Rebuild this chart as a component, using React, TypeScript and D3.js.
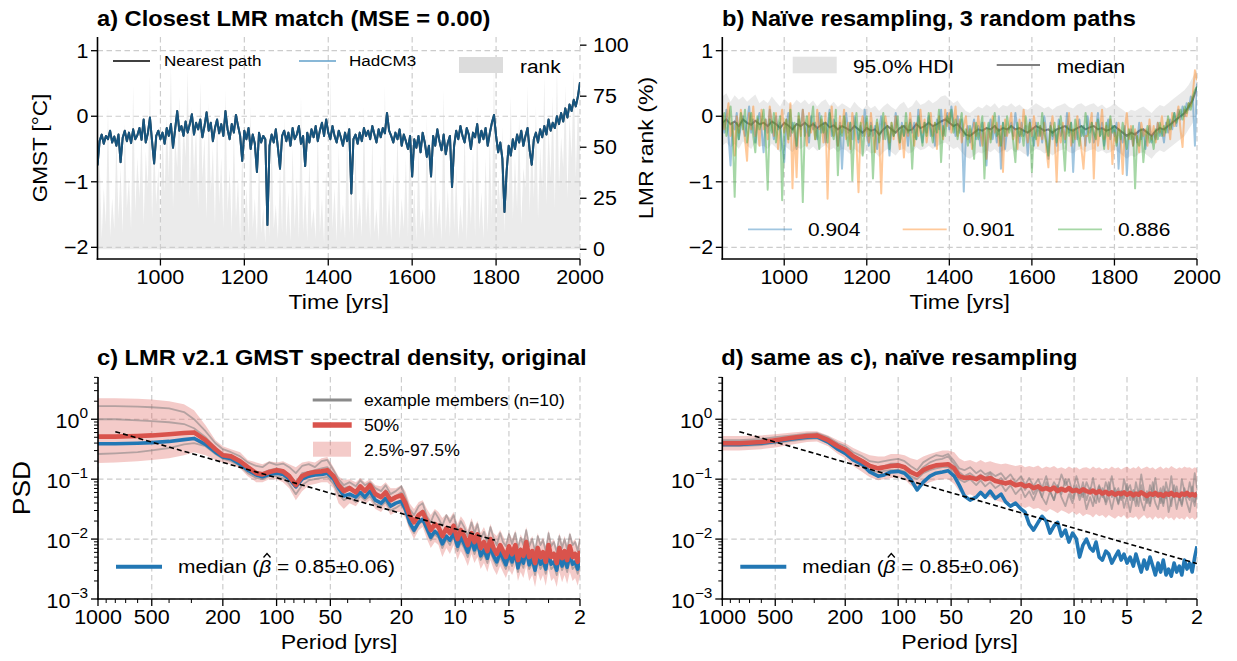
import React from "react";
import * as d3 from "d3";

const W = 1237;
const H = 661;
const FONT = "'Liberation Sans', Arial, Helvetica, sans-serif";
const SX = 1.1; // the reference font runs a bit wider than Arial

// ---------- panels a) and b): yearly series sampled every 5 years ----------
const YEARS = d3.range(850, 2001, 5);

const GMST_NEAREST = [
  -0.75, -0.38, -0.28, -0.42, -0.30, -0.35, -0.22, -0.40, -0.31, -0.45,
  -0.28, -0.70, -0.33, -0.22, -0.38, -0.25, -0.41, -0.20, -0.35, -0.29,
  -0.18, -0.36, -0.05, -0.40, -0.26, -0.02, -0.38, -0.72, -0.30, -0.22,
  -0.35, -0.25, -0.42, -0.18, -0.30, -0.12, -0.48, -0.20, 0.08, -0.22,
  -0.15, -0.30, -0.08, -0.25, -0.12, 0.03, -0.28, -0.10, -0.20, -0.05,
  -0.32, -0.15, 0.06, -0.22, -0.10, -0.38, -0.18, -0.05, -0.26, -0.12,
  -0.30, 0.08, -0.20, -0.35, -0.12, -0.25, 0.02, -0.15, -0.30, -0.68,
  -0.22, -0.35, -0.18, -0.50, -0.28, -0.42, -0.85, -0.25, -0.40, -0.30,
  -0.35, -1.66, -0.45, -0.28, -0.40, -0.20, -0.48, -0.80, -0.30, -0.22,
  -0.38, -0.25, -0.45, -0.18, -0.35, -0.28, -0.15, -0.42, -0.30, -0.76,
  -0.25, -0.40, -0.20, -0.32, -0.15, -0.38, -0.22, -0.10, -0.30, -0.05,
  -0.25, -0.35, -0.15, -0.30, -0.40, -0.22, -0.32, -0.45, -0.25, -0.38,
  -0.20, -1.18, -0.35, -0.28, -0.42, -0.25, -0.38, -0.18, -0.30, -0.22,
  -0.35, -0.15, -0.28, -0.40, -0.20, -0.32, -0.18, -0.26, 0.05, -0.22,
  -0.30, -0.40, -0.25, -0.35, -0.20, -0.45, -0.28, -0.38, -0.50, -0.30,
  -0.92, -0.35, -0.48, -0.30, -0.55, -0.25, -0.40, -0.62, -0.45, -0.92,
  -0.30, -0.45, -0.20, -0.38, -0.52, -0.28, -0.58, -0.40, -0.30, -1.08,
  -0.45, -0.22, -0.35, -0.15, -0.30, -0.40, -0.18, -0.28, -0.50, -0.25,
  -0.32, -0.12, -0.40, -0.22, -0.35, -0.18, -0.45, -0.26, -0.10, 0.02,
  -0.30, -0.55, -0.40, -0.65, -1.46, -0.85, -0.45, -0.60, -0.35, -0.50,
  -0.28, -0.40, -0.22, -0.45, -0.30, -0.18, -0.52, -0.74, -0.35, -0.25,
  -0.40, -0.20, -0.32, -0.15, -0.28, -0.05, -0.22, -0.10, -0.18, 0.00,
  -0.12, 0.05, -0.08, 0.12, -0.02, 0.18, 0.08, 0.25, 0.15, 0.30,
  0.52,
];

const LMR_RANK = [
  8, 45, 5, 30, 12, 70, 6, 25, 10, 55,
  15, 40, 8, 62, 20, 35, 10, 80, 18, 45,
  25, 60, 12, 48, 30, 85, 15, 52, 22, 40,
  10, 58, 28, 65, 35, 90, 20, 55, 40, 75,
  30, 62, 45, 88, 25, 70, 38, 60, 20, 82,
  35, 55, 15, 72, 28, 50, 12, 66, 22, 45,
  10, 78, 18, 40, 8, 60, 15, 35, 5, 50,
  12, 30, 6, 70, 10, 25, 4, 45, 8, 20,
  3, 35, 6, 55, 10, 22, 5, 40, 8, 65,
  6, 28, 4, 50, 10, 35, 5, 75, 8, 30,
  4, 45, 10, 20, 5, 60, 8, 25, 3, 40,
  6, 85, 10, 30, 4, 50, 8, 22, 5, 65,
  8, 35, 4, 48, 10, 25, 6, 70, 12, 30,
  5, 55, 8, 20, 4, 42, 10, 80, 6, 28,
  4, 38, 8, 60, 5, 25, 10, 45, 6, 72,
  8, 30, 4, 50, 10, 20, 5, 65, 8, 35,
  5, 45, 10, 25, 4, 78, 8, 30, 6, 52,
  10, 40, 5, 22, 8, 60, 4, 35, 12, 48,
  6, 70, 10, 28, 5, 45, 8, 55, 15, 90,
  10, 35, 20, 60, 8, 50, 25, 75, 15, 45,
  20, 65, 12, 40, 30, 80, 18, 55, 25, 70,
  15, 50, 30, 85, 22, 60, 35, 75, 20, 90,
  30, 55, 40, 80, 25, 65, 45, 88, 35, 70,
  50,
];

// three resampled paths (labels are their correlations)
const PATH_904 = [
  -0.05, -0.25, 0.1, -0.3, -0.75, -0.1, -0.2, 0.05, -0.35, -0.15,
  0.0, -0.3, -0.1, 0.15, -0.25, -0.05, -0.4, -0.1, 0.05, -0.2,
  -0.55, -0.05, -0.25, 0.1, -0.15, -0.35, 0.0, -0.2, -0.1, -0.45,
  -0.7, -0.15, 0.05, -0.3, -0.1, -0.25, -0.5, -0.05, -0.2, 0.1,
  -0.3, -0.15, -0.4, 0.0, -0.2, -0.1, -0.35, 0.05, -0.25, -0.1,
  -0.4, -0.15, 0.1, -0.3, -0.05, -0.2, -0.45, -0.1, -0.8, -0.2,
  0.05, -0.25, -0.1, -0.35, 0.0, -0.2, -0.4, -0.15, -0.3, 0.1,
  -0.25, -0.45, -0.1, -0.3, -0.15, -0.5, -0.2, 0.0, -0.35, -0.1,
  -0.25, -0.6, -0.15, -0.3, 0.05, -0.2, -0.4, -0.1, -0.3, -0.15,
  -0.45, -0.05, -0.25, -0.1, -0.35, 0.1, -0.2, -0.4, -0.1, -0.25,
  0.0, -0.3, -0.15, -0.45, -0.05, -0.2, 0.1, -0.3, -0.1, 0.05,
  -0.2, 0.15, -0.1, -0.3, 0.0, -0.25, -0.05, -1.15, -0.3, -0.15,
  -0.4, -0.2, -0.05, -0.35, -0.15, -0.45, -0.1, -0.3, -0.75, -0.2,
  -0.05, -0.35, -0.15, -0.4, 0.0, -0.8, -0.1, -0.5, -0.2, -0.2,
  -0.1, -0.3, 0.05, -0.2, -0.4, -0.1, -0.3, -0.15, -0.6, -0.05,
  -0.25, -0.45, -0.1, -0.3, -0.15, -0.4, 0.0, -0.25, -0.65, -0.1,
  -0.35, -0.2, -0.45, -0.05, -0.3, -0.15, -0.4, 0.05, -0.25, -0.1,
  -0.85, -0.2, -0.35, -0.05, -0.3, -0.15, -0.45, 0.0, -0.25, -0.1,
  -0.4, -0.2, 0.05, -0.3, -0.1, -0.45, -0.2, -0.05, -0.35, -0.15,
  -0.3, -0.1, -0.8, -0.25, -0.4, -0.15, -0.9, -0.3, -0.2, -0.45,
  -0.25, -0.4, -0.1, -0.35, -0.2, -0.5, -0.3, -0.15, -0.4, -0.25,
  -0.35, -0.1, -0.3, -0.2, -0.4, -0.1, -0.25, -0.05, -0.2, 0.05,
  -0.15, 0.1, -0.05, 0.15, 0.0, 0.2, 0.1, 0.3, 0.25, -0.45,
  0.5,
];

const PATH_901 = [
  0.05, -0.2, -0.05, 0.2, -0.3, -0.1, -0.6, 0.0, -0.25, 0.1,
  -0.15, -0.35, -0.68, 0.05, -0.2, 0.15, -0.3, -0.05, -0.45, 0.1,
  -0.2, -0.05, -0.35, 0.15, -0.1, -0.3, 0.05, -0.5, -0.15, 0.1,
  -0.25, -0.05, -0.4, 0.2, -1.1, -0.15, -0.93, 0.0, -0.3, 0.1,
  -0.2, -0.45, 0.05, -0.25, -0.1, -0.35, 0.1, -0.2, -0.05, -0.4,
  0.05, -1.26, -0.2, 0.15, -0.3, -0.1, -0.45, 0.0, -0.25, 0.1,
  -0.35, -0.1, -0.5, 0.05, -0.2, -0.4, -1.16, -0.15, 0.0, -0.3,
  -0.1, -0.4, 0.05, -0.25, -0.55, -0.1, -0.3, -1.18, -0.2, 0.0,
  -0.2, -0.4, -0.1, -0.35, 0.0, -0.25, -0.5, -0.15, -0.63, -0.1,
  -0.3, 0.05, -0.2, -0.45, -0.1, -0.3, 0.1, -0.25, -0.05, -0.4,
  -0.15, 0.05, -0.3, -0.1, -0.5, 0.0, -0.2, -0.35, 0.1, -0.15,
  0.05, -0.25, -0.1, 0.15, -0.3, -0.05, -0.4, -0.15, 0.0, -0.35,
  -0.2, -0.5, -0.1, -0.3, 0.0, -0.25, -0.45, -0.1, -0.65, -0.2,
  -0.35, 0.0, -0.25, -0.1, -0.45, -0.15, -0.85, -0.05, -0.3, -0.15,
  0.05, -0.35, -0.2, -0.5, -0.05, -0.3, 0.1, -0.2, -0.4, -0.1,
  -0.3, 0.0, -0.25, -0.45, -0.15, -0.35, -0.1, -0.5, -0.78, -0.2,
  0.0, -0.3, -1.0, -0.15, -0.4, -0.1, -0.35, -0.2, 0.05, -0.45,
  -0.2, -0.35, 0.0, -0.25, -0.5, -0.8, -0.3, -0.3, -0.15, 0.05,
  -0.95, -0.1, -0.45, -0.2, 0.1, -0.35, -0.15, -0.5, -0.05, -0.73,
  -0.25, -0.4, -0.1, -0.3, -0.88, -0.2, 0.05, -0.35, -0.15, -0.45,
  -0.2, -0.35, -0.55, -0.1, -0.3, -0.2, -0.45, -0.05, -0.35, -0.15,
  -0.4, -0.1, -0.25, 0.0, -0.3, -0.15, -0.05, -0.35, 0.05, -0.15,
  -0.05, 0.15, -0.2, -0.47, 0.1, 0.0, 0.2, 0.15, 0.35, 0.7,
  0.55,
];

const PATH_886 = [
  -0.2, 0.05, -0.3, -0.1, 0.15, -0.25, -1.23, -0.1, -0.35, 0.05,
  -0.2, 0.1, -0.4, -0.15, 0.05, -0.3, -0.55, 0.0, -0.2, -0.1,
  0.1, -0.35, -1.12, -0.05, -0.25, 0.05, -0.4, -0.15, 0.0, -1.28,
  -0.2, -0.05, -0.35, 0.1, -0.25, -0.1, -0.45, 0.05, -0.2, -1.31,
  -0.15, 0.0, -0.3, -0.1, 0.15, -0.35, -0.2, -0.5, 0.0, -0.25,
  -0.1, -0.4, 0.05, -0.2, -0.35, 0.1, -0.9, -0.15, -0.3, 0.0,
  -0.25, -0.45, -0.1, -0.98, -0.2, 0.05, -0.35, -0.1, -0.6, -0.2,
  0.0, -0.3, -0.15, -0.95, -0.25, -0.05, -0.4, -0.2, 0.05, -0.35,
  -0.15, -0.5, -0.1, -0.3, -0.2, 0.0, -0.4, -0.15, -0.3, 0.05,
  -0.25, -0.1, -0.8, -0.2, -0.35, 0.0, -0.2, -0.45, -0.1, -0.3,
  0.05, -0.2, -0.4, -0.1, -0.25, 0.1, -0.7, -0.15, -0.3, 0.0,
  -0.1, 0.1, -0.25, -0.05, -0.35, -0.15, 0.05, -0.3, -0.2, -0.45,
  -0.15, -0.3, -0.65, -0.1, -0.35, -0.2, 0.0, -0.95, -0.25, -0.1,
  -0.4, -0.15, 0.05, -0.3, -0.2, -0.45, -0.1, -0.3, 0.0, -0.25,
  -0.15, -0.4, -0.7, -0.1, -0.3, -0.2, -0.45, 0.0, -0.25, -0.1,
  -0.85, -0.2, -0.35, -0.1, -0.3, 0.05, -0.25, -0.4, -0.6, -0.15,
  -0.3, -0.1, -0.4, -0.2, 0.0, -0.35, -0.83, -0.15, -0.3, -0.1,
  -0.4, -0.05, -0.25, -0.45, -0.15, -0.3, 0.05, -0.2, -0.4, -0.1,
  -0.25, -0.35, -0.05, -0.3, -0.2, -0.5, -0.1, -0.3, 0.0, -0.25,
  -0.15, -0.45, -0.2, -0.35, -0.1, -0.3, -0.5, -0.2, -0.35, -0.15,
  -1.1, -0.3, -0.45, -0.2, -0.7, -0.35, -0.15, -0.4, -0.3, -0.5,
  -0.2, -0.35, -0.1, -0.3, -0.15, -0.25, 0.0, -0.2, -0.1, 0.05,
  -0.1, 0.0, 0.1, -0.05, 0.15, 0.05, 0.2, 0.1, 0.3, 0.4,
  0.45,
];

const PATHS = [PATH_904, PATH_901, PATH_886];
const PATH_LABELS = ["0.904", "0.901", "0.886"];
const PATH_COLORS = ["#1f77b4", "#ff7f0e", "#2ca02c"];

// ensemble summary, every 10 years
const HDI_YEARS = d3.range(850, 2001, 10);
const HDI_MEDIAN = [
  -0.1, -0.05, -0.12, -0.08, -0.15, -0.05, -0.1, -0.13, -0.07, -0.12,
  -0.1, -0.15, -0.08, -0.12, -0.18, -0.1, -0.14, -0.2, -0.12, -0.15,
  -0.1, -0.16, -0.12, -0.18, -0.13, -0.1, -0.17, -0.14, -0.2, -0.15,
  -0.18, -0.22, -0.15, -0.2, -0.25, -0.18, -0.22, -0.2, -0.28, -0.2,
  -0.15, -0.2, -0.25, -0.18, -0.15, -0.22, -0.2, -0.12, -0.18, -0.15,
  -0.1, -0.15, -0.12, -0.08, -0.05, -0.1, -0.15, -0.12, -0.2, -0.28,
  -0.3, -0.25, -0.2, -0.22, -0.18, -0.2, -0.15, -0.22, -0.18, -0.2,
  -0.15, -0.2, -0.18, -0.22, -0.25, -0.2, -0.15, -0.18, -0.22, -0.2,
  -0.25, -0.2, -0.18, -0.15, -0.2, -0.22, -0.18, -0.15, -0.2, -0.17,
  -0.15, -0.2, -0.18, -0.22, -0.2, -0.15, -0.2, -0.25, -0.3, -0.25,
  -0.28, -0.22, -0.2, -0.25, -0.3, -0.22, -0.18, -0.2, -0.15, -0.1,
  -0.05, 0.0, 0.05, 0.15, 0.25, 0.45,
];
const HDI_HIGH = [
  0.3, 0.35, 0.22, 0.32, 0.25, 0.3, 0.22, 0.28, 0.33, 0.2,
  0.25, 0.2, 0.3, 0.22, 0.15, 0.27, 0.2, 0.17, 0.25, 0.2,
  0.25, 0.18, 0.24, 0.15, 0.22, 0.26, 0.16, 0.22, 0.14, 0.2,
  0.16, 0.12, 0.22, 0.15, 0.1, 0.18, 0.12, 0.16, 0.08, 0.15,
  0.2, 0.14, 0.1, 0.18, 0.22, 0.12, 0.16, 0.25, 0.17, 0.2,
  0.25, 0.2, 0.24, 0.3, 0.32, 0.26, 0.2, 0.24, 0.15, 0.08,
  0.05, 0.1, 0.15, 0.12, 0.18, 0.14, 0.2, 0.12, 0.17, 0.15,
  0.2, 0.14, 0.18, 0.12, 0.1, 0.15, 0.2, 0.16, 0.12, 0.15,
  0.1, 0.15, 0.17, 0.2, 0.14, 0.12, 0.18, 0.2, 0.15, 0.18,
  0.2, 0.14, 0.18, 0.12, 0.15, 0.2, 0.14, 0.1, 0.05, 0.1,
  0.08, 0.12, 0.15, 0.1, 0.05, 0.12, 0.17, 0.15, 0.2, 0.25,
  0.3, 0.35, 0.4, 0.48, 0.6, 0.72,
];
const HDI_LOW = [
  -0.45, -0.4, -0.48, -0.42, -0.5, -0.38, -0.45, -0.5, -0.4, -0.46,
  -0.45, -0.5, -0.42, -0.48, -0.55, -0.45, -0.5, -0.55, -0.47, -0.5,
  -0.45, -0.52, -0.46, -0.53, -0.48, -0.44, -0.52, -0.48, -0.55, -0.5,
  -0.52, -0.58, -0.5, -0.55, -0.6, -0.52, -0.57, -0.55, -0.62, -0.55,
  -0.5, -0.55, -0.6, -0.52, -0.5, -0.57, -0.55, -0.47, -0.52, -0.5,
  -0.45, -0.5, -0.46, -0.42, -0.4, -0.45, -0.5, -0.47, -0.55, -0.62,
  -0.65, -0.6, -0.55, -0.57, -0.52, -0.55, -0.5, -0.57, -0.52, -0.55,
  -0.5, -0.55, -0.52, -0.57, -0.6, -0.55, -0.5, -0.52, -0.57, -0.55,
  -0.6, -0.55, -0.52, -0.5, -0.55, -0.57, -0.52, -0.5, -0.55, -0.52,
  -0.5, -0.55, -0.52, -0.57, -0.55, -0.5, -0.55, -0.6, -0.65, -0.6,
  -0.62, -0.57, -0.55, -0.6, -0.65, -0.57, -0.52, -0.55, -0.5, -0.45,
  -0.4, -0.35, -0.3, -0.2, -0.1, 0.15,
];

const TIME_TICKS = [1000, 1200, 1400, 1600, 1800, 2000];
const GMST_TICKS = [1, 0, -1, -2];
const RANK_TICKS = [0, 25, 50, 75, 100];

// ---------- panels c) and d): log10(PSD) read at each period ----------
const PERIODS = [
  1000, 800, 600, 500, 400, 330, 290, 250, 220, 200,
  180, 160, 145, 130, 120, 110, 100, 92, 85, 78,
  72, 66, 61, 56, 52, 48, 45, 42, 39, 36,
  34, 32, 30, 28, 26, 24.5, 23, 21.5, 20, 19,
  18, 17, 16, 15.2, 14.4, 13.7, 13, 12.4, 11.8, 11.2,
  10.7, 10.2, 9.7, 9.3, 8.9, 8.5, 8.1, 7.8, 7.5, 7.2,
  6.9, 6.6, 6.35, 6.1, 5.85, 5.6, 5.4, 5.2, 5.0, 4.8,
  4.6, 4.45, 4.3, 4.15, 4.0, 3.85, 3.7, 3.57, 3.45, 3.33,
  3.22, 3.11, 3.0, 2.9, 2.8, 2.7, 2.61, 2.52, 2.44, 2.36,
  2.28, 2.2, 2.13, 2.06, 2.0,
];

const ORIG_Q50 = [
  -0.29, -0.29, -0.28, -0.27, -0.25, -0.23, -0.22, -0.35, -0.5, -0.6,
  -0.62, -0.7, -0.8, -0.9, -0.92, -0.88, -0.85, -0.87, -0.95, -1.1,
  -0.95, -0.9, -0.88, -0.87, -0.85, -0.95, -1.1, -1.2, -1.15, -1.22,
  -1.12, -1.2, -1.1, -1.25, -1.3, -1.22, -1.35, -1.3, -1.27, -1.4,
  -1.6, -1.72, -1.6, -1.55, -1.7, -1.85, -1.75, -1.8, -1.95, -1.82,
  -1.9, -1.78, -2.0, -1.85, -1.95, -2.1, -1.9, -2.05, -1.92, -2.15,
  -2.05, -2.2, -2.0, -2.15, -2.25, -2.1, -2.2, -2.3, -2.12, -2.25,
  -2.1, -2.35, -2.18, -2.28, -2.05, -2.3, -2.2, -2.4, -2.15, -2.3,
  -2.22, -2.38, -2.1, -2.3, -2.25, -2.4, -2.15, -2.32, -2.2, -2.35,
  -2.12, -2.3, -2.25, -2.38, -2.2,
];
const ORIG_MEDIAN = [
  -0.41, -0.41, -0.4, -0.39, -0.37, -0.34, -0.32, -0.42, -0.55, -0.63,
  -0.66, -0.75, -0.85, -0.93, -0.96, -0.92, -0.9, -0.92, -1.0, -1.13,
  -1.0, -0.95, -0.93, -0.92, -0.9, -1.0, -1.15, -1.28, -1.25, -1.3,
  -1.22, -1.3, -1.2, -1.35, -1.4, -1.32, -1.45, -1.4, -1.37, -1.5,
  -1.72, -1.85, -1.72, -1.67, -1.82, -1.97, -1.87, -1.92, -2.08, -1.95,
  -2.02, -1.9, -2.12, -1.97, -2.08, -2.22, -2.02, -2.18, -2.05, -2.28,
  -2.18, -2.32, -2.12, -2.28, -2.38, -2.22, -2.32, -2.43, -2.25, -2.38,
  -2.22, -2.48, -2.3, -2.4, -2.18, -2.43, -2.32, -2.52, -2.28, -2.42,
  -2.35, -2.5, -2.22, -2.42, -2.38, -2.52, -2.28, -2.45, -2.32, -2.47,
  -2.25, -2.42, -2.38, -2.5, -2.3,
];
const ORIG_HIGH = [
  0.35, 0.35, 0.34, 0.33, 0.3, 0.25, 0.15, -0.1, -0.35, -0.45,
  -0.5, -0.55, -0.68, -0.72, -0.75, -0.7, -0.72, -0.7, -0.75, -0.8,
  -0.72, -0.7, -0.72, -0.65, -0.63, -0.8, -0.95, -1.02, -1.0, -1.05,
  -0.98, -1.05, -1.0, -1.1, -1.12, -1.05, -1.15, -1.15, -1.1, -1.2,
  -1.4, -1.5, -1.38, -1.35, -1.5, -1.6, -1.5, -1.55, -1.65, -1.58,
  -1.65, -1.55, -1.75, -1.62, -1.7, -1.85, -1.65, -1.8, -1.7, -1.9,
  -1.8, -1.95, -1.75, -1.9, -1.95, -1.85, -1.95, -2.05, -1.88, -2.0,
  -1.85, -2.1, -1.92, -2.02, -1.8, -2.05, -1.95, -2.15, -1.9, -2.05,
  -1.97, -2.12, -1.85, -2.05, -2.0, -2.15, -1.9, -2.07, -1.95, -2.1,
  -1.88, -2.05, -2.0, -2.12, -1.95,
];
const ORIG_LOW = [
  -0.73, -0.72, -0.7, -0.68, -0.65, -0.6, -0.55, -0.6, -0.68, -0.72,
  -0.75, -0.82, -0.95, -1.05, -1.05, -1.0, -1.0, -1.05, -1.15, -1.35,
  -1.2, -1.1, -1.08, -1.05, -1.05, -1.15, -1.4, -1.5, -1.4, -1.45,
  -1.35, -1.42, -1.35, -1.5, -1.55, -1.45, -1.6, -1.55, -1.55, -1.65,
  -1.85, -2.0, -1.85, -1.8, -2.0, -2.15, -2.05, -2.1, -2.3, -2.15,
  -2.25, -2.1, -2.35, -2.2, -2.3, -2.45, -2.25, -2.4, -2.3, -2.5,
  -2.4, -2.55, -2.35, -2.5, -2.6, -2.45, -2.55, -2.65, -2.5, -2.6,
  -2.45, -2.7, -2.55, -2.65, -2.45, -2.7, -2.6, -2.8, -2.55, -2.7,
  -2.6, -2.78, -2.5, -2.7, -2.65, -2.8, -2.55, -2.72, -2.6, -2.75,
  -2.55, -2.7, -2.65, -2.78, -2.6,
];
const ORIG_MEMBER_1 = [
  0.22, 0.22, 0.21, 0.2, 0.18, 0.12, 0.0, -0.2, -0.4, -0.5,
  -0.55, -0.62, -0.72, -0.78, -0.8, -0.72, -0.76, -0.74, -0.8, -0.9,
  -0.78, -0.75, -0.8, -0.7, -0.68, -0.85, -1.0, -1.1, -1.05, -1.12,
  -1.02, -1.1, -1.05, -1.15, -1.2, -1.1, -1.25, -1.2, -1.12, -1.3,
  -1.5, -1.6, -1.45, -1.4, -1.62, -1.72, -1.55, -1.65, -1.78, -1.6,
  -1.72, -1.6, -1.85, -1.7, -1.8, -1.95, -1.72, -1.9, -1.75, -2.0,
  -1.88, -2.05, -1.8, -1.98, -2.1, -1.9, -2.05, -2.12, -1.92, -2.08,
  -1.9, -2.15, -1.98, -2.1, -1.85, -2.12, -2.0, -2.2, -1.95, -2.1,
  -2.02, -2.2, -1.9, -2.12, -2.05, -2.22, -1.95, -2.15, -2.0, -2.18,
  -1.92, -2.1, -2.05, -2.2, -2.0,
];
const ORIG_MEMBER_2 = [
  0.0, 0.0, -0.02, -0.03, -0.05, -0.08, -0.15, -0.3, -0.48, -0.58,
  -0.6, -0.68, -0.78, -0.88, -0.9, -0.85, -0.82, -0.85, -0.92, -1.05,
  -0.9, -0.88, -0.85, -0.82, -0.8, -0.92, -1.05, -1.15, -1.12, -1.2,
  -1.1, -1.18, -1.12, -1.22, -1.28, -1.18, -1.32, -1.28, -1.22, -1.38,
  -1.58, -1.7, -1.58, -1.52, -1.68, -1.82, -1.72, -1.78, -1.9, -1.8,
  -1.88, -1.75, -1.98, -1.82, -1.92, -2.08, -1.88, -2.02, -1.9, -2.12,
  -2.02, -2.18, -1.98, -2.12, -2.22, -2.08, -2.18, -2.28, -2.1, -2.22,
  -2.08, -2.32, -2.15, -2.25, -2.02, -2.28, -2.18, -2.38, -2.12, -2.28,
  -2.2, -2.35, -2.08, -2.28, -2.22, -2.38, -2.12, -2.3, -2.18, -2.32,
  -2.1, -2.28, -2.22, -2.35, -2.18,
];
const ORIG_MEMBER_3 = [
  -0.58, -0.57, -0.55, -0.52, -0.48, -0.42, -0.4, -0.45, -0.58, -0.66,
  -0.7, -0.78, -0.9, -0.98, -1.0, -0.95, -0.95, -0.98, -1.08, -1.25,
  -1.1, -1.02, -1.0, -0.98, -0.96, -1.08, -1.25, -1.35, -1.3, -1.38,
  -1.28, -1.35, -1.28, -1.42, -1.45, -1.38, -1.52, -1.48, -1.42, -1.55,
  -1.78, -1.9, -1.75, -1.7, -1.88, -2.02, -1.92, -1.98, -2.15, -2.0,
  -2.1, -1.95, -2.2, -2.05, -2.15, -2.3, -2.1, -2.25, -2.12, -2.35,
  -2.25, -2.4, -2.2, -2.35, -2.45, -2.3, -2.4, -2.5, -2.32, -2.45,
  -2.3, -2.55, -2.38, -2.48, -2.25, -2.5, -2.4, -2.6, -2.35, -2.5,
  -2.42, -2.58, -2.3, -2.5, -2.45, -2.6, -2.35, -2.52, -2.4, -2.55,
  -2.32, -2.5, -2.45, -2.58, -2.4,
];

const NAIVE_Q50 = [
  -0.4, -0.4, -0.38, -0.35, -0.31, -0.28, -0.27, -0.35, -0.45, -0.51,
  -0.62, -0.7, -0.78, -0.82, -0.8, -0.78, -0.77, -0.8, -0.88, -0.93,
  -0.85, -0.8, -0.77, -0.76, -0.75, -0.82, -0.95, -0.98, -0.97, -1.0,
  -0.96, -1.0, -0.98, -1.03, -1.05, -1.07, -1.05, -1.1, -1.08, -1.12,
  -1.1, -1.15, -1.12, -1.17, -1.15, -1.18, -1.14, -1.2, -1.16, -1.19,
  -1.15, -1.2, -1.18, -1.21, -1.17, -1.2, -1.22, -1.19, -1.23, -1.2,
  -1.24, -1.21, -1.25, -1.22, -1.26, -1.23, -1.25, -1.22, -1.26, -1.23,
  -1.27, -1.24, -1.26, -1.22, -1.25, -1.28, -1.24, -1.26, -1.23, -1.27,
  -1.25, -1.28, -1.24, -1.26, -1.23, -1.27, -1.25, -1.28, -1.24, -1.26,
  -1.23, -1.27, -1.25, -1.27, -1.24,
];
const NAIVE_MEDIAN = [
  -0.42, -0.42, -0.4, -0.37, -0.33, -0.3, -0.29, -0.38, -0.5, -0.57,
  -0.68, -0.76, -0.88, -0.95, -0.93, -0.88, -0.87, -0.9, -1.0, -1.18,
  -1.05, -0.95, -0.9, -0.88, -0.86, -0.95, -1.1, -1.28, -1.35, -1.3,
  -1.22, -1.3, -1.2, -1.32, -1.25, -1.38, -1.45, -1.4, -1.5, -1.55,
  -1.75, -1.85, -1.72, -1.62, -1.7, -1.9, -1.78, -1.72, -1.95, -1.85,
  -2.05, -1.9, -2.0, -2.3, -2.1, -2.0, -2.15, -2.2, -2.05, -2.3,
  -2.35, -2.2, -2.25, -2.4, -2.3, -2.2, -2.35, -2.25, -2.4, -2.3,
  -2.45, -2.25, -2.4, -2.55, -2.35, -2.5, -2.3, -2.45, -2.6, -2.4,
  -2.55, -2.35, -2.6, -2.5, -2.62, -2.4, -2.55, -2.45, -2.6, -2.35,
  -2.5, -2.4, -2.55, -2.3, -2.12,
];
const NAIVE_HIGH = [
  -0.28, -0.28, -0.27, -0.25, -0.22, -0.2, -0.2, -0.27, -0.35, -0.4,
  -0.48, -0.55, -0.6, -0.62, -0.62, -0.58, -0.58, -0.6, -0.65, -0.68,
  -0.62, -0.58, -0.55, -0.52, -0.52, -0.55, -0.65, -0.7, -0.68, -0.72,
  -0.68, -0.72, -0.7, -0.73, -0.75, -0.74, -0.76, -0.78, -0.76, -0.8,
  -0.78, -0.8, -0.77, -0.82, -0.79, -0.81, -0.78, -0.82, -0.8, -0.83,
  -0.79, -0.82, -0.8, -0.84, -0.81, -0.8, -0.83, -0.79, -0.82, -0.8,
  -0.84, -0.81, -0.83, -0.79, -0.82, -0.8, -0.84, -0.81, -0.79, -0.83,
  -0.8, -0.82, -0.78, -0.83, -0.81, -0.79, -0.82, -0.8, -0.84, -0.81,
  -0.79, -0.83, -0.8, -0.82, -0.78, -0.81, -0.83, -0.8, -0.82, -0.79,
  -0.81, -0.8, -0.83, -0.8, -0.82,
];
const NAIVE_LOW = [
  -0.52, -0.52, -0.5, -0.47, -0.42, -0.38, -0.37, -0.45, -0.58, -0.65,
  -0.78, -0.88, -0.97, -1.02, -1.0, -0.98, -0.97, -1.0, -1.1, -1.18,
  -1.1, -1.05, -1.02, -1.0, -1.0, -1.08, -1.2, -1.28, -1.25, -1.3,
  -1.27, -1.3, -1.3, -1.35, -1.38, -1.4, -1.38, -1.42, -1.45, -1.48,
  -1.45, -1.5, -1.48, -1.52, -1.55, -1.5, -1.53, -1.57, -1.52, -1.55,
  -1.58, -1.54, -1.6, -1.56, -1.62, -1.58, -1.6, -1.64, -1.58, -1.62,
  -1.6, -1.65, -1.6, -1.63, -1.66, -1.61, -1.64, -1.6, -1.67, -1.63,
  -1.65, -1.62, -1.68, -1.64, -1.6, -1.66, -1.63, -1.68, -1.62, -1.66,
  -1.64, -1.68, -1.62, -1.66, -1.64, -1.69, -1.63, -1.67, -1.65, -1.68,
  -1.62, -1.67, -1.64, -1.68, -1.65,
];
const NAIVE_MEMBER_1 = [
  -0.35, -0.35, -0.33, -0.3, -0.27, -0.24, -0.23, -0.3, -0.4, -0.45,
  -0.55, -0.62, -0.7, -0.72, -0.7, -0.68, -0.66, -0.7, -0.78, -0.85,
  -0.72, -0.65, -0.6, -0.62, -0.58, -0.7, -0.82, -0.85, -0.8, -0.9,
  -0.85, -0.92, -0.88, -0.95, -0.9, -1.0, -0.92, -1.05, -0.95, -1.1,
  -0.98, -1.12, -1.0, -1.15, -0.95, -1.2, -1.05, -1.15, -0.92, -1.1,
  -1.0, -1.22, -0.95, -1.15, -1.3, -1.05, -1.2, -0.98, -1.25, -1.1,
  -1.3, -1.05, -1.2, -0.95, -1.25, -1.15, -1.35, -1.0, -1.2, -1.1,
  -1.35, -1.05, -1.25, -0.92, -1.2, -1.4, -1.1, -1.25, -0.98, -1.3,
  -1.15, -1.4, -1.05, -1.25, -0.95, -1.3, -1.12, -1.35, -1.0, -1.2,
  -1.3, -1.05, -1.25, -0.9, -1.15,
];
const NAIVE_MEMBER_2 = [
  -0.45, -0.45, -0.43, -0.4, -0.36, -0.33, -0.32, -0.4, -0.52, -0.58,
  -0.68, -0.75, -0.85, -0.88, -0.86, -0.85, -0.84, -0.87, -0.95, -1.0,
  -0.9, -0.85, -0.82, -0.8, -0.8, -0.88, -1.0, -1.05, -1.0, -1.1,
  -1.02, -1.12, -1.05, -1.15, -1.08, -1.2, -1.1, -1.25, -1.15, -1.3,
  -1.2, -1.35, -1.15, -1.3, -1.42, -1.2, -1.35, -1.1, -1.3, -1.45,
  -1.25, -1.4, -1.15, -1.35, -1.2, -1.5, -1.3, -1.45, -1.2, -1.38,
  -1.15, -1.42, -1.28, -1.5, -1.25, -1.4, -1.2, -1.48, -1.3, -1.55,
  -1.25, -1.45, -1.2, -1.38, -1.52, -1.3, -1.45, -1.22, -1.4, -1.5,
  -1.28, -1.45, -1.2, -1.55, -1.35, -1.25, -1.5, -1.3, -1.45, -1.22,
  -1.4, -1.55, -1.3, -1.45, -1.2,
];
const NAIVE_MEMBER_3 = [
  -0.38, -0.38, -0.36, -0.34, -0.3, -0.27, -0.26, -0.33, -0.44, -0.5,
  -0.6, -0.68, -0.76, -0.8, -0.78, -0.74, -0.74, -0.78, -0.85, -0.92,
  -0.8, -0.72, -0.68, -0.66, -0.62, -0.75, -0.88, -0.95, -0.9, -0.98,
  -0.92, -0.98, -0.9, -1.05, -0.98, -1.1, -1.02, -1.12, -1.05, -1.18,
  -1.08, -1.25, -1.1, -1.3, -1.05, -1.2, -1.35, -1.12, -1.25, -1.0,
  -1.18, -1.32, -1.1, -1.28, -1.05, -1.35, -1.15, -1.3, -1.4, -1.12,
  -1.25, -1.38, -1.05, -1.3, -1.15, -1.42, -1.2, -1.32, -1.08, -1.35,
  -1.18, -1.3, -1.45, -1.1, -1.35, -1.2, -1.4, -1.05, -1.3, -1.22,
  -1.4, -1.12, -1.32, -1.2, -1.45, -1.1, -1.3, -1.25, -1.42, -1.15,
  -1.28, -1.35, -1.12, -1.38, -1.22,
];

// fitted power law, end points [period, PSD]
const FIT_ORIG = [[800, 0.62], [6, 0.0096]];
const FIT_NAIVE = [[800, 0.62], [2, 0.0039]];

const PERIOD_TICKS = [1000, 500, 200, 100, 50, 20, 10, 5, 2];
const PSD_EXPONENTS = [0, -1, -2, -3];

// ---------- layout ----------
const BOX_A = { left: 97.5, right: 580, top: 37, bottom: 259 };
const BOX_B = { left: 722.3, right: 1197, top: 37, bottom: 259 };
const BOX_C = { left: 98, right: 580, top: 377, bottom: 599 };
const BOX_D = { left: 722.3, right: 1197, top: 377, bottom: 599 };

const GRID = { stroke: "#cccccc", strokeWidth: 1.2, strokeDasharray: "5.5,3.5" };
const RED = "#d9534c";
const BLUE = "#2277b4";
const TICK_FS = 19.5;

const minus = (t: number) => (t < 0 ? "\u2212" + Math.abs(t) : String(t));

function Txt({ x, y, size, anchor = "start", weight = "normal", children }: any) {
  return (
    <text
      transform={`translate(${x},${y}) scale(${SX},1)`}
      textAnchor={anchor}
      fontSize={size}
      fontWeight={weight}
      fontFamily={FONT}
      fill="#000"
    >
      {children}
    </text>
  );
}

function VTxt({ x, y, size, children }: any) {
  return (
    <text
      transform={`translate(${x},${y}) rotate(-90) scale(${SX},1)`}
      textAnchor="middle"
      fontSize={size}
      fontFamily={FONT}
      fill="#000"
    >
      {children}
    </text>
  );
}

function Spines({ box }: any) {
  return (
    <g stroke="#000" strokeWidth={1.6} fill="none">
      <line x1={box.left} x2={box.left} y1={box.top} y2={box.bottom + 0.8} />
      <line x1={box.left - 0.8} x2={box.right} y1={box.bottom} y2={box.bottom} />
    </g>
  );
}

function TimeFrame({ box, x, y }: any) {
  return (
    <g>
      <Spines box={box} />
      {TIME_TICKS.map((t) => (
        <g key={"xt" + t}>
          <line x1={x(t)} x2={x(t)} y1={box.bottom} y2={box.bottom + 6.5} stroke="#000" strokeWidth={1.3} />
          <Txt x={x(t)} y={box.bottom + 25} size={TICK_FS} anchor="middle">{t}</Txt>
        </g>
      ))}
      {GMST_TICKS.map((t) => (
        <g key={"yt" + t}>
          <line x1={box.left - 6.5} x2={box.left} y1={y(t)} y2={y(t)} stroke="#000" strokeWidth={1.3} />
          <Txt x={box.left - 9} y={y(t) + 7} size={TICK_FS} anchor="end">{minus(t)}</Txt>
        </g>
      ))}
      <Txt x={(box.left + box.right) / 2} y={box.bottom + 50} size={21} anchor="middle">Time [yrs]</Txt>
    </g>
  );
}

function TimeGrid({ box, x, y }: any) {
  return (
    <g>
      {TIME_TICKS.map((t) => (
        <line key={"gx" + t} x1={x(t)} x2={x(t)} y1={box.top} y2={box.bottom} {...GRID} />
      ))}
      {GMST_TICKS.map((t) => (
        <line key={"gy" + t} x1={box.left} x2={box.right} y1={y(t)} y2={y(t)} {...GRID} />
      ))}
    </g>
  );
}

function PanelA() {
  const box = BOX_A;
  const x = d3.scaleLinear([850, 2000], [box.left, box.right]);
  const y = d3.scaleLinear([-2.178, 1.209], [box.bottom, box.top]);
  const r = d3.scaleLinear([-4.75, 104], [box.bottom, box.top]);
  const line = d3.line<number>().x((_, i) => x(YEARS[i])).y((d) => y(d));
  const rankArea = d3.area<number>().x((_, i) => x(YEARS[i])).y0(r(0)).y1((d) => r(d));
  return (
    <g>
      <defs>
        <clipPath id="clipA"><rect x={box.left} y={box.top} width={box.right - box.left} height={box.bottom - box.top} /></clipPath>
      </defs>
      <TimeGrid box={box} x={x} y={y} />
      <g clipPath="url(#clipA)">
        <path d={rankArea(LMR_RANK) || ""} fill="#d0d0d0" fillOpacity={0.42} />
        <path d={line(GMST_NEAREST) || ""} fill="none" stroke="#000" strokeWidth={2} strokeLinejoin="round" />
        <path d={line(GMST_NEAREST) || ""} fill="none" stroke="#1f77b4" strokeOpacity={0.7} strokeWidth={2} strokeLinejoin="round" />
      </g>
      <TimeFrame box={box} x={x} y={y} />
      {RANK_TICKS.map((t) => (
        <g key={"rt" + t}>
          <line x1={box.right} x2={box.right + 6.5} y1={r(t)} y2={r(t)} stroke="#000" strokeWidth={1.3} />
          <Txt x={box.right + 13} y={r(t) + 7} size={TICK_FS}>{t}</Txt>
        </g>
      ))}
      <VTxt x={47} y={(box.top + box.bottom) / 2} size={20.5}>GMST [°C]</VTxt>
      <VTxt x={653} y={(box.top + box.bottom) / 2} size={21}>LMR rank (%)</VTxt>
      {/* legend */}
      <line x1={113} x2={150} y1={61} y2={61} stroke="#000" strokeWidth={1.6} />
      <Txt x={164} y={66} size={15.5}>Nearest path</Txt>
      <line x1={299} x2={336} y1={61} y2={61} stroke="#1f77b4" strokeOpacity={0.7} strokeWidth={1.6} />
      <Txt x={349} y={66} size={15.5}>HadCM3</Txt>
      <rect x={459} y={57} width={44} height={16} fill="#dcdcdc" />
      <Txt x={520} y={73} size={19}>rank</Txt>
      <Txt x={97} y={26} size={21.5} weight="bold">a) Closest LMR match (MSE = 0.00)</Txt>
    </g>
  );
}

function PanelB() {
  const box = BOX_B;
  const x = d3.scaleLinear([850, 2000], [box.left, box.right]);
  const y = d3.scaleLinear([-2.178, 1.209], [box.bottom, box.top]);
  const line = d3.line<number>().x((_, i) => x(YEARS[i])).y((d) => y(d));
  const medLine = d3.line<number>().x((_, i) => x(HDI_YEARS[i])).y((d) => y(d));
  const band = d3
    .area<number>()
    .x((_, i) => x(HDI_YEARS[i]))
    .y0((_, i) => y(HDI_LOW[i]))
    .y1((d) => y(d));
  const legendX = [748, 902.7, 1058];
  return (
    <g>
      <defs>
        <clipPath id="clipB"><rect x={box.left} y={box.top} width={box.right - box.left} height={box.bottom - box.top} /></clipPath>
      </defs>
      <TimeGrid box={box} x={x} y={y} />
      <g clipPath="url(#clipB)">
        <path d={band(HDI_HIGH) || ""} fill="#d0d0d0" fillOpacity={0.45} />
        <path d={medLine(HDI_MEDIAN) || ""} fill="none" stroke="#808080" strokeWidth={2} />
        {PATHS.map((p, k) => (
          <path key={k} d={line(p) || ""} fill="none" stroke={PATH_COLORS[k]} strokeOpacity={0.42} strokeWidth={2} strokeLinejoin="round" />
        ))}
      </g>
      <TimeFrame box={box} x={x} y={y} />
      {/* legends */}
      <rect x={792.7} y={56.7} width={44} height={16.6} fill="#e3e3e3" />
      <Txt x={853} y={72.7} size={19}>95.0% HDI</Txt>
      <line x1={996.7} x2={1040} y1={65} y2={65} stroke="#808080" strokeWidth={1.8} />
      <Txt x={1056.7} y={72.7} size={19}>median</Txt>
      {PATH_LABELS.map((lab, k) => (
        <g key={lab}>
          <line x1={legendX[k]} x2={legendX[k] + 44} y1={229.3} y2={229.3} stroke={PATH_COLORS[k]} strokeOpacity={0.42} strokeWidth={1.8} />
          <Txt x={legendX[k] + 60} y={235.5} size={19}>{lab}</Txt>
        </g>
      ))}
      <Txt x={722} y={26} size={21.5} weight="bold">b) Naïve resampling, 3 random paths</Txt>
    </g>
  );
}

function SpecPanel({ box, id, title, q50, median, high, low, members, fit, legend }: any) {
  const x = d3.scaleLog([1000, 2], [box.left, box.right]);
  const y = d3.scaleLog([1e-3, 5.07], [box.bottom, box.top]);
  const line = d3.line<number>().x((_, i) => x(PERIODS[i])).y((d) => y(10 ** d));
  const band = d3
    .area<number>()
    .x((_, i) => x(PERIODS[i]))
    .y0((_, i) => y(10 ** low[i]))
    .y1((d) => y(10 ** d));
  const fitLine = d3.line<number[]>().x((d) => x(d[0])).y((d) => y(d[1]));
  const xTicks = x.ticks();
  const yTicks = y.ticks();
  const isMajorX = (t: number) => PERIOD_TICKS.some((p) => Math.abs(p - t) < 1e-6);
  const isMajorY = (t: number) => PSD_EXPONENTS.some((e) => Math.abs(Math.log10(t) - e) < 1e-6);
  // hat over the italic beta in the median legend
  const hx = box.left + 169;
  return (
    <g>
      <defs>
        <clipPath id={id}><rect x={box.left} y={box.top} width={box.right - box.left} height={box.bottom - box.top} /></clipPath>
      </defs>
      {PERIOD_TICKS.map((t) => (
        <line key={"gx" + t} x1={x(t)} x2={x(t)} y1={box.top} y2={box.bottom} {...GRID} />
      ))}
      {PSD_EXPONENTS.map((e) => (
        <line key={"gy" + e} x1={box.left} x2={box.right} y1={y(10 ** e)} y2={y(10 ** e)} {...GRID} />
      ))}
      <g clipPath={`url(#${id})`}>
        <path d={band(high) || ""} fill={RED} fillOpacity={0.3} />
        {members.map((m: number[], k: number) => (
          <path key={k} d={line(m) || ""} fill="none" stroke="#7f7f7f" strokeOpacity={0.55} strokeWidth={1.8} strokeLinejoin="round" />
        ))}
        <path d={line(median) || ""} fill="none" stroke={BLUE} strokeWidth={3.6} strokeLinejoin="round" />
        <path d={line(q50) || ""} fill="none" stroke={RED} strokeWidth={4.6} strokeLinejoin="round" />
        <path d={fitLine(fit) || ""} fill="none" stroke="#000" strokeWidth={1.6} strokeDasharray="5,3" />
      </g>
      <Spines box={box} />
      {xTicks.map((t) => (
        <line key={"xt" + t} x1={x(t)} x2={x(t)} y1={box.bottom} y2={box.bottom + (isMajorX(t) ? 7 : 4)} stroke="#000" strokeWidth={isMajorX(t) ? 1.3 : 1} />
      ))}
      {PERIOD_TICKS.map((t) => (
        <Txt key={"xl" + t} x={x(t)} y={box.bottom + 25} size={TICK_FS} anchor="middle">{t}</Txt>
      ))}
      {yTicks.map((t) => (
        <line key={"yt" + t} x1={box.left - (isMajorY(t) ? 7 : 4)} x2={box.left} y1={y(t)} y2={y(t)} stroke="#000" strokeWidth={isMajorY(t) ? 1.3 : 1} />
      ))}
      {PSD_EXPONENTS.map((e) => (
        <Txt key={"yl" + e} x={box.left - 10} y={y(10 ** e) + 9} size={TICK_FS} anchor="end">
          10<tspan dy={-10} fontSize={14}>{minus(e)}</tspan>
        </Txt>
      ))}
      <Txt x={(box.left + box.right) / 2} y={box.bottom + 50} size={21} anchor="middle">Period [yrs]</Txt>
      {/* median legend */}
      <line x1={box.left + 18} x2={box.left + 64} y1={566.7} y2={566.7} stroke={BLUE} strokeWidth={4} />
      <Txt x={box.left + 80} y={573.3} size={19}>
        median (<tspan fontStyle="italic">β</tspan> = 0.85±0.06)
      </Txt>
      <polyline points={`${hx - 3.5},557.5 ${hx},553.5 ${hx + 3.5},557.5`} fill="none" stroke="#000" strokeWidth={1.3} />
      {legend && (
        <g>
          <line x1={312.7} x2={351.7} y1={400} y2={400} stroke="#8a8a8a" strokeWidth={3} />
          <Txt x={364} y={405.5} size={16}>example members (n=10)</Txt>
          <line x1={312.7} x2={351.7} y1={425} y2={425} stroke={RED} strokeWidth={5.5} />
          <Txt x={364} y={431} size={16}>50%</Txt>
          <rect x={313} y={441.7} width={38} height={15} fill={RED} fillOpacity={0.3} />
          <Txt x={364} y={455.5} size={16}>2.5%-97.5%</Txt>
        </g>
      )}
      <Txt x={box.left - 1} y={365} size={21.5} weight="bold">{title}</Txt>
    </g>
  );
}

export default function App() {
  return (
    <svg
      width={W}
      height={H}
      viewBox={`0 0 ${W} ${H}`}
      style={{ position: "absolute", left: 0, top: 0, background: "#fff" }}
    >
      <rect width={W} height={H} fill="#fff" />
      <PanelA />
      <PanelB />
      <SpecPanel
        box={BOX_C}
        id="clipC"
        title="c) LMR v2.1 GMST spectral density, original"
        q50={ORIG_Q50}
        median={ORIG_MEDIAN}
        high={ORIG_HIGH}
        low={ORIG_LOW}
        members={[ORIG_MEMBER_1, ORIG_MEMBER_2, ORIG_MEMBER_3]}
        fit={FIT_ORIG}
        legend
      />
      <SpecPanel
        box={BOX_D}
        id="clipD"
        title="d) same as c), naïve resampling"
        q50={NAIVE_Q50}
        median={NAIVE_MEDIAN}
        high={NAIVE_HIGH}
        low={NAIVE_LOW}
        members={[NAIVE_MEMBER_1, NAIVE_MEMBER_2, NAIVE_MEMBER_3]}
        fit={FIT_NAIVE}
      />
      <VTxt x={30} y={488} size={24}>PSD</VTxt>
    </svg>
  );
}
